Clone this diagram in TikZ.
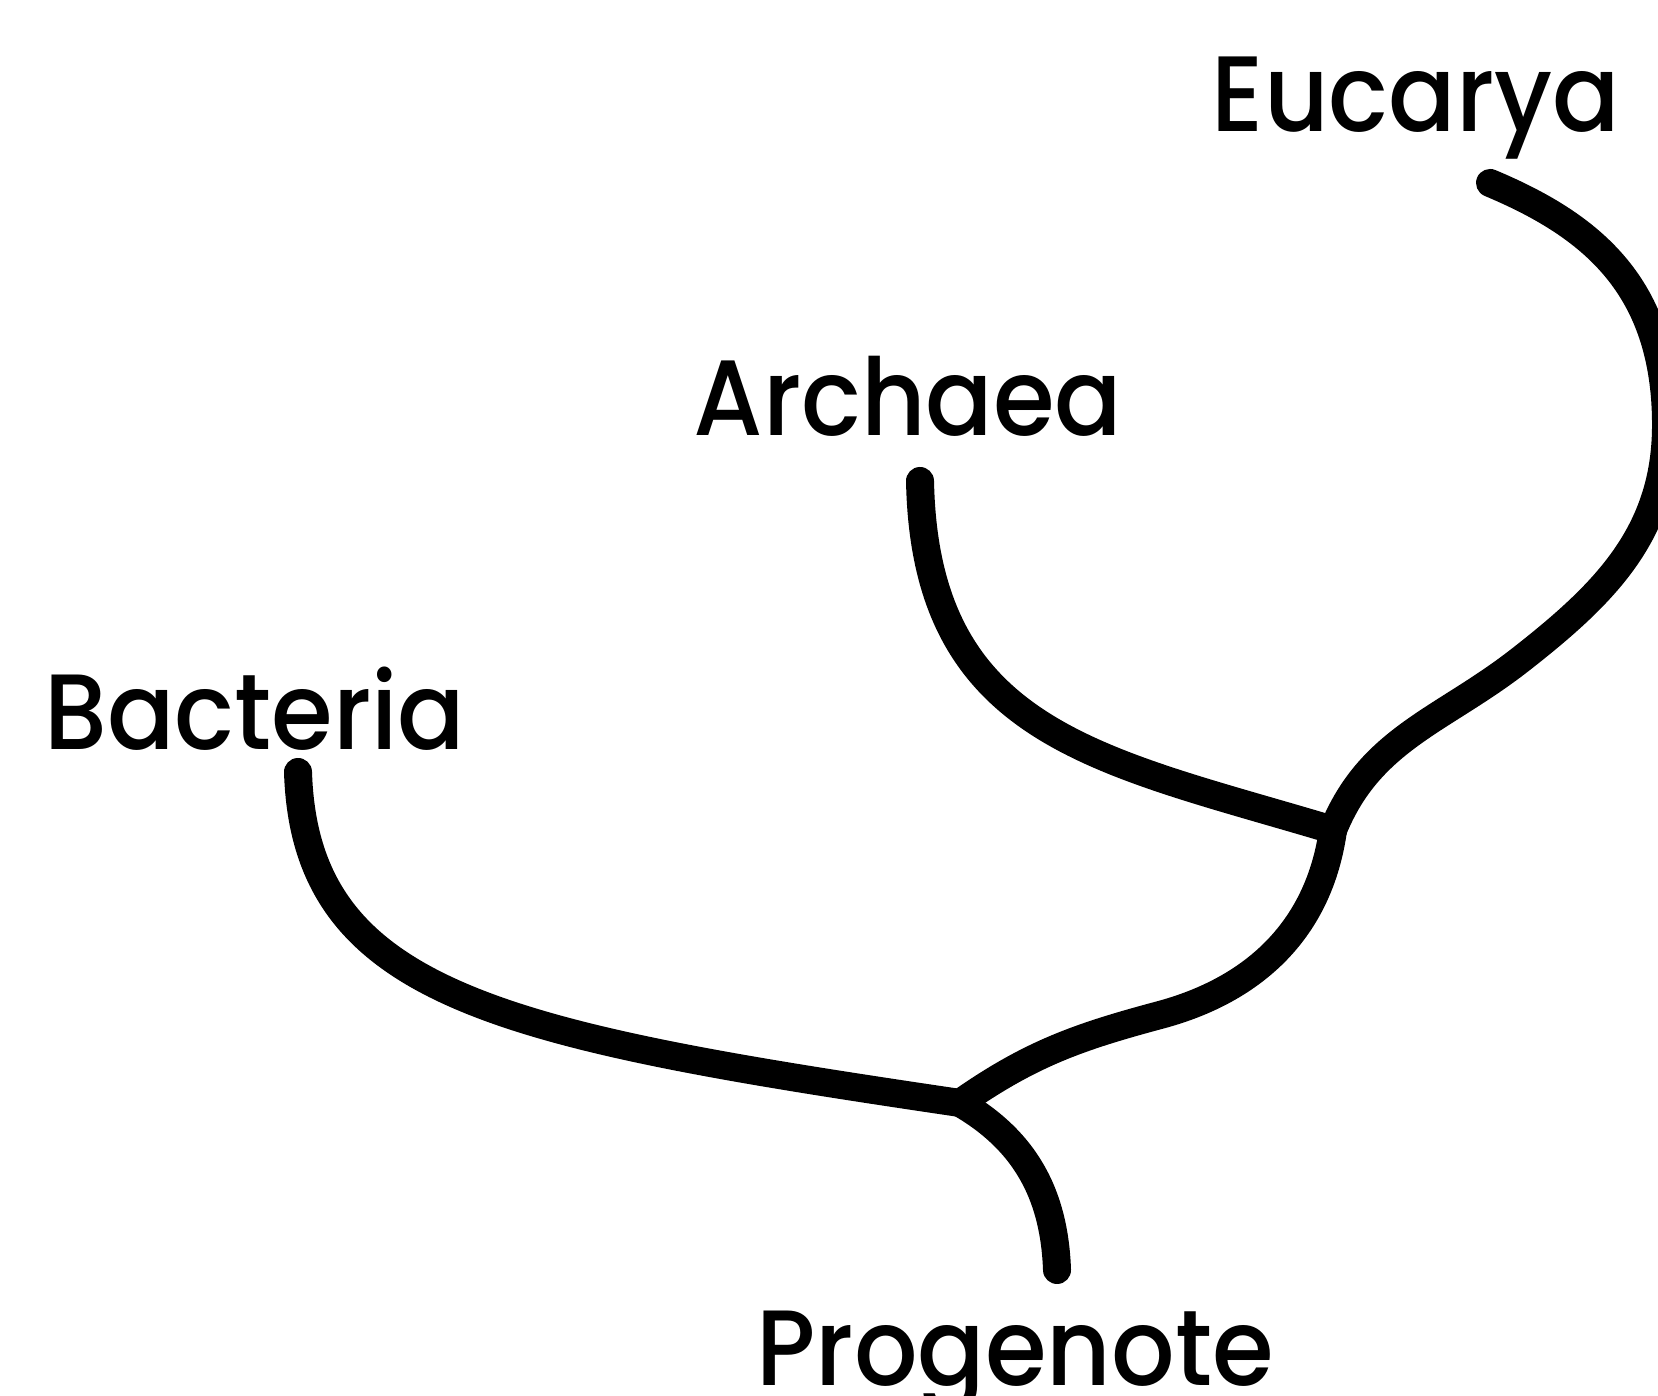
\documentclass[tikz,border=0pt]{standalone}
\usepackage{fontspec}
\setmainfont{Poppins}[FakeStretch=0.93, BoldFont={Poppins Medium}]
\tikzset{
  branch/.style={line width=0.28cm, line cap=round},
  taxon/.style={anchor=base, inner sep=0pt, font=\fontsize{30.5}{32}\selectfont\bfseries},
}
\begin{document}
\begin{tikzpicture}
  \useasboundingbox (0,0) rectangle (16.58,13.95);

  % Taxon labels
  \node[taxon] (eucarya) at (14.16,12.63) {Eucarya};
  \node[taxon] (archaea) at (9.08,9.59) {Archaea};
  \node[taxon] (bacteria) at (2.55,6.45) {Bacteria};
  \node[taxon] (progenote) at (10.15,0.10) {Progenote};

  % Branch tips and forks
  \coordinate (euc tip) at (14.90,12.12);
  \coordinate (arc tip) at (9.20,9.14);
  \coordinate (bac tip) at (2.98,6.23);
  \coordinate (root tip) at (10.57,1.25);
  \coordinate (fork top) at (13.33,5.65);
  \coordinate (fork low) at (9.60,2.92);

  % Eucarya (runs off the right edge)
  \draw[branch] (euc tip) .. controls (15.9,11.7) and (16.66,11.1) .. (16.66,9.7)
    to[out=-90, in=38] (15.2,7.35) to[out=218, in=68] (fork top);
  % Archaea
  \draw[branch] (arc tip) .. controls (9.25,6.6) and (11.0,6.35) .. (fork top);
  % Stem between the two forks
  \draw[branch] (fork top) to[out=-98, in=15] (11.6,3.8) to[out=195, in=35] (fork low);
  % Bacteria
  \draw[branch] (bac tip) .. controls (3.05,4.0) and (5.0,3.6) .. (fork low);
  % Root
  \draw[branch] (fork low) to[out=-30, in=92] (root tip);
\end{tikzpicture}
\end{document}
